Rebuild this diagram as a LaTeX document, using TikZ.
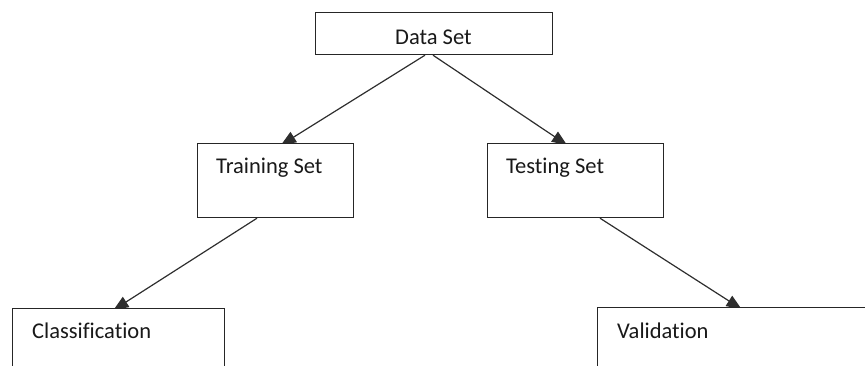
\documentclass[tikz,border=0pt]{standalone}
\usepackage{fontspec}
\setmainfont[Ligatures={NoCommon}]{Carlito}
\usetikzlibrary{arrows.meta,calc,backgrounds}
\tikzset{
  box/.style={draw=black!85, line width=1.2pt, fill=white, rectangle,
              inner sep=0pt, anchor=north west},
  lbl/.style={anchor=base west, inner sep=0pt, text=black!90,
              font=\fontsize{22.5}{26}\selectfont},
  link/.style={draw=black!82, line width=1.2pt,
               -{Triangle[length=15pt,width=12pt]}},
}
\begin{document}
\begin{tikzpicture}[x=1pt,y=1pt]
  \useasboundingbox (0,0) rectangle (865,366);
  \clip (0,0) rectangle (865,366);

  % boxes
  \node[box, minimum width=237, minimum height=42] (data)  at (315,354) {};
  \node[box, minimum width=156, minimum height=74] (train) at (197,223) {};
  \node[box, minimum width=176, minimum height=74] (test)  at (487,223) {};
  \node[box, minimum width=212, minimum height=90] (class) at (12,58) {};
  \node[box, minimum width=300, minimum height=90] (valid) at (597,59) {};

  % labels
  \node[lbl] (datatxt)  at (395,321) {Data Set};
  \node[lbl] (traintxt) at (216,192) {Training Set};
  \node[lbl] (testtxt)  at (506,192) {Testing Set};
  \node[lbl] (classtxt) at (32,27)   {Classification};
  \node[lbl] (validtxt) at (617,27)  {Validation};

  % connector end points on the box edges
  \coordinate (dL) at ($(data.south west)+(110,0)$);
  \coordinate (dR) at ($(data.south west)+(118,0)$);
  \coordinate (trB) at ($(train.south west)+(60,0)$);
  \coordinate (teB) at ($(test.south west)+(113,0)$);
  \coordinate (trT) at ($(train.north west)+(84,-2)$);
  \coordinate (teT) at ($(test.north west)+(80,-2)$);
  \coordinate (clT) at ($(class.north west)+(101.5,-2)$);
  \coordinate (vaT) at ($(valid.north west)+(144.5,-2)$);

  % connectors, drawn behind the boxes
  \begin{pgfonlayer}{background}
    \draw[link] (dL) -- (trT);
    \draw[link] (dR) -- (teT);
    \draw[link] (trB) -- (clT);
    \draw[link] (teB) -- (vaT);
  \end{pgfonlayer}
\end{tikzpicture}
\end{document}
